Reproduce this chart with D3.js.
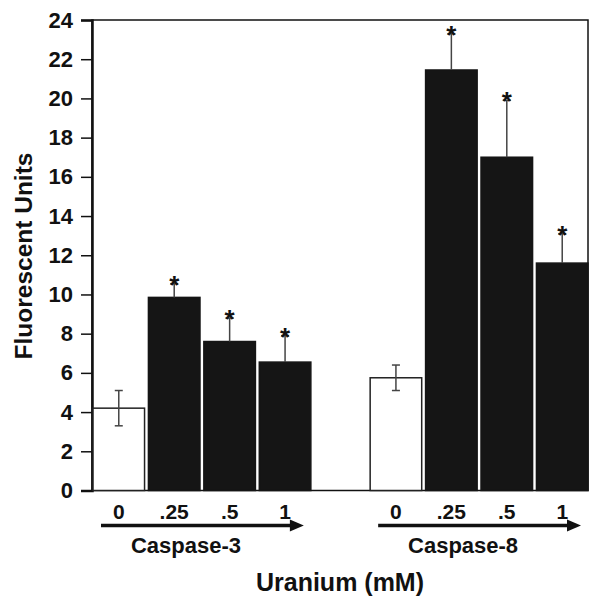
<!DOCTYPE html>
<html>
<head>
<meta charset="utf-8">
<script src="https://cdn.jsdelivr.net/npm/d3@7"></script>
<style>
  body { margin: 0; background: #fff; }
  text { font-family: "Liberation Sans", Arial, sans-serif; font-weight: bold; fill: #111; }
</style>
</head>
<body>
<svg id="chart"></svg>
<script>
const groups = ['Caspase-3', 'Caspase-8'];
const doses = ['0', '.25', '.5', '1'];
const caspase3 = [4.2, 9.85, 7.6, 6.55];
const caspase3Err = [0.9, 0.7, 1.2, 1.35];
const caspase8 = [5.75, 21.45, 17.0, 11.6];
const caspase8Err = [0.65, 1.85, 2.9, 1.5];
const significant = [false, true, true, true];
const yTicks = [0, 2, 4, 6, 8, 10, 12, 14, 16, 18, 20, 22, 24];

const data = [];
groups.forEach((g, gi) => {
  const vals = gi === 0 ? caspase3 : caspase8;
  const errs = gi === 0 ? caspase3Err : caspase8Err;
  doses.forEach((d, i) => {
    data.push({group: g, dose: d, value: vals[i], err: errs[i], star: significant[i], control: i === 0});
  });
});

const margin = {top: 20, left: 92, right: 14, bottom: 119.5};
const width = 602 - margin.left - margin.right;
const height = 610 - margin.top - margin.bottom;

const svg = d3.select('#chart')
  .attr('width', 602)
  .attr('height', 610)
  .append('g')
  .attr('transform', `translate(${margin.left}, ${margin.top})`);

const x0 = d3.scaleBand()
  .domain(groups)
  .range([1, width])
  .paddingInner(0.214)
  .paddingOuter(0);

const x1 = d3.scaleBand()
  .domain(doses)
  .range([0, x0.bandwidth()])
  .paddingInner(0.07)
  .paddingOuter(0);

const y = d3.scaleLinear()
  .domain([0, 24])
  .range([height, 0]);

// frame
svg.append('rect')
  .attr('x', 0).attr('y', 0)
  .attr('width', width).attr('height', height)
  .attr('fill', 'none')
  .attr('stroke', '#111')
  .attr('stroke-width', 1.5);

// y axis
const yAxis = svg.append('g')
  .call(d3.axisLeft(y).tickValues(yTicks).tickSize(11).tickPadding(8));
yAxis.select('.domain').attr('stroke', '#111').attr('stroke-width', 2.5);
yAxis.selectAll('.tick line').attr('stroke', '#111').attr('stroke-width', 1.5);
yAxis.selectAll('.tick text')
  .style('font-size', '22px')
  .style('font-family', '"Liberation Sans", Arial, sans-serif')
  .style('font-weight', 'bold')
  .attr('fill', '#111');

// bars
svg.selectAll('.bar')
  .data(data)
  .enter()
  .append('rect')
  .attr('class', 'bar')
  .attr('x', d => x0(d.group) + x1(d.dose))
  .attr('y', d => y(d.value))
  .attr('width', x1.bandwidth())
  .attr('height', d => y(0) - y(d.value))
  .attr('fill', d => d.control ? '#fff' : '#151515')
  .attr('stroke', d => d.control ? '#222' : '#151515')
  .attr('stroke-width', 1.5);

// error bars (lower half only shows on the open bars)
const cx = d => x0(d.group) + x1(d.dose) + x1.bandwidth() / 2;
const err = svg.selectAll('.err')
  .data(data)
  .enter()
  .append('g')
  .attr('class', 'err')
  .attr('stroke', '#444')
  .attr('stroke-width', 1.5);

err.append('line')
  .attr('x1', cx).attr('x2', cx)
  .attr('y1', d => d.control ? y(d.value - d.err) : y(d.value))
  .attr('y2', d => y(d.value + d.err));

err.append('line')
  .attr('x1', d => cx(d) - 4).attr('x2', d => cx(d) + 4)
  .attr('y1', d => y(d.value + d.err))
  .attr('y2', d => y(d.value + d.err));

err.filter(d => d.control).append('line')
  .attr('x1', d => cx(d) - 4).attr('x2', d => cx(d) + 4)
  .attr('y1', d => y(d.value - d.err))
  .attr('y2', d => y(d.value - d.err));

// asterisks
svg.selectAll('.star')
  .data(data.filter(d => d.star))
  .enter()
  .append('text')
  .attr('class', 'star')
  .attr('x', cx)
  .attr('y', d => y(d.value + d.err) + 10)
  .attr('text-anchor', 'middle')
  .style('font-size', '26px')
  .text('*');

// dose labels
svg.selectAll('.dose')
  .data(data)
  .enter()
  .append('text')
  .attr('class', 'dose')
  .attr('x', cx)
  .attr('y', height + 28)
  .attr('text-anchor', 'middle')
  .style('font-size', '21px')
  .text(d => d.dose);

// arrows and group labels
const arrow = svg.selectAll('.arrow')
  .data(groups)
  .enter()
  .append('g')
  .attr('class', 'arrow');

arrow.append('line')
  .attr('x1', g => x0(g) + 8)
  .attr('x2', g => x0(g) + x0.bandwidth() - 18)
  .attr('y1', height + 35)
  .attr('y2', height + 35)
  .attr('stroke', '#111')
  .attr('stroke-width', 3.5);

arrow.append('path')
  .attr('d', g => {
    const tip = x0(g) + x0.bandwidth() - 7;
    const yy = height + 35;
    return `M${tip},${yy} L${tip - 14},${yy - 6} L${tip - 14},${yy + 6} Z`;
  })
  .attr('fill', '#111');

arrow.append('text')
  .attr('x', g => x0(g) + x0.bandwidth() / 2 - 16)
  .attr('y', height + 62)
  .attr('text-anchor', 'middle')
  .style('font-size', '22px')
  .text(g => g);

// axis titles
svg.append('text')
  .attr('x', width / 2)
  .attr('y', height + 100)
  .attr('text-anchor', 'middle')
  .style('font-size', '25px')
  .text('Uranium (mM)');

svg.append('text')
  .attr('transform', `translate(${32 - margin.left}, ${256 - margin.top}) rotate(-90)`)
  .attr('text-anchor', 'middle')
  .style('font-size', '24.5px')
  .text('Fluorescent Units');
</script>
</body>
</html>
